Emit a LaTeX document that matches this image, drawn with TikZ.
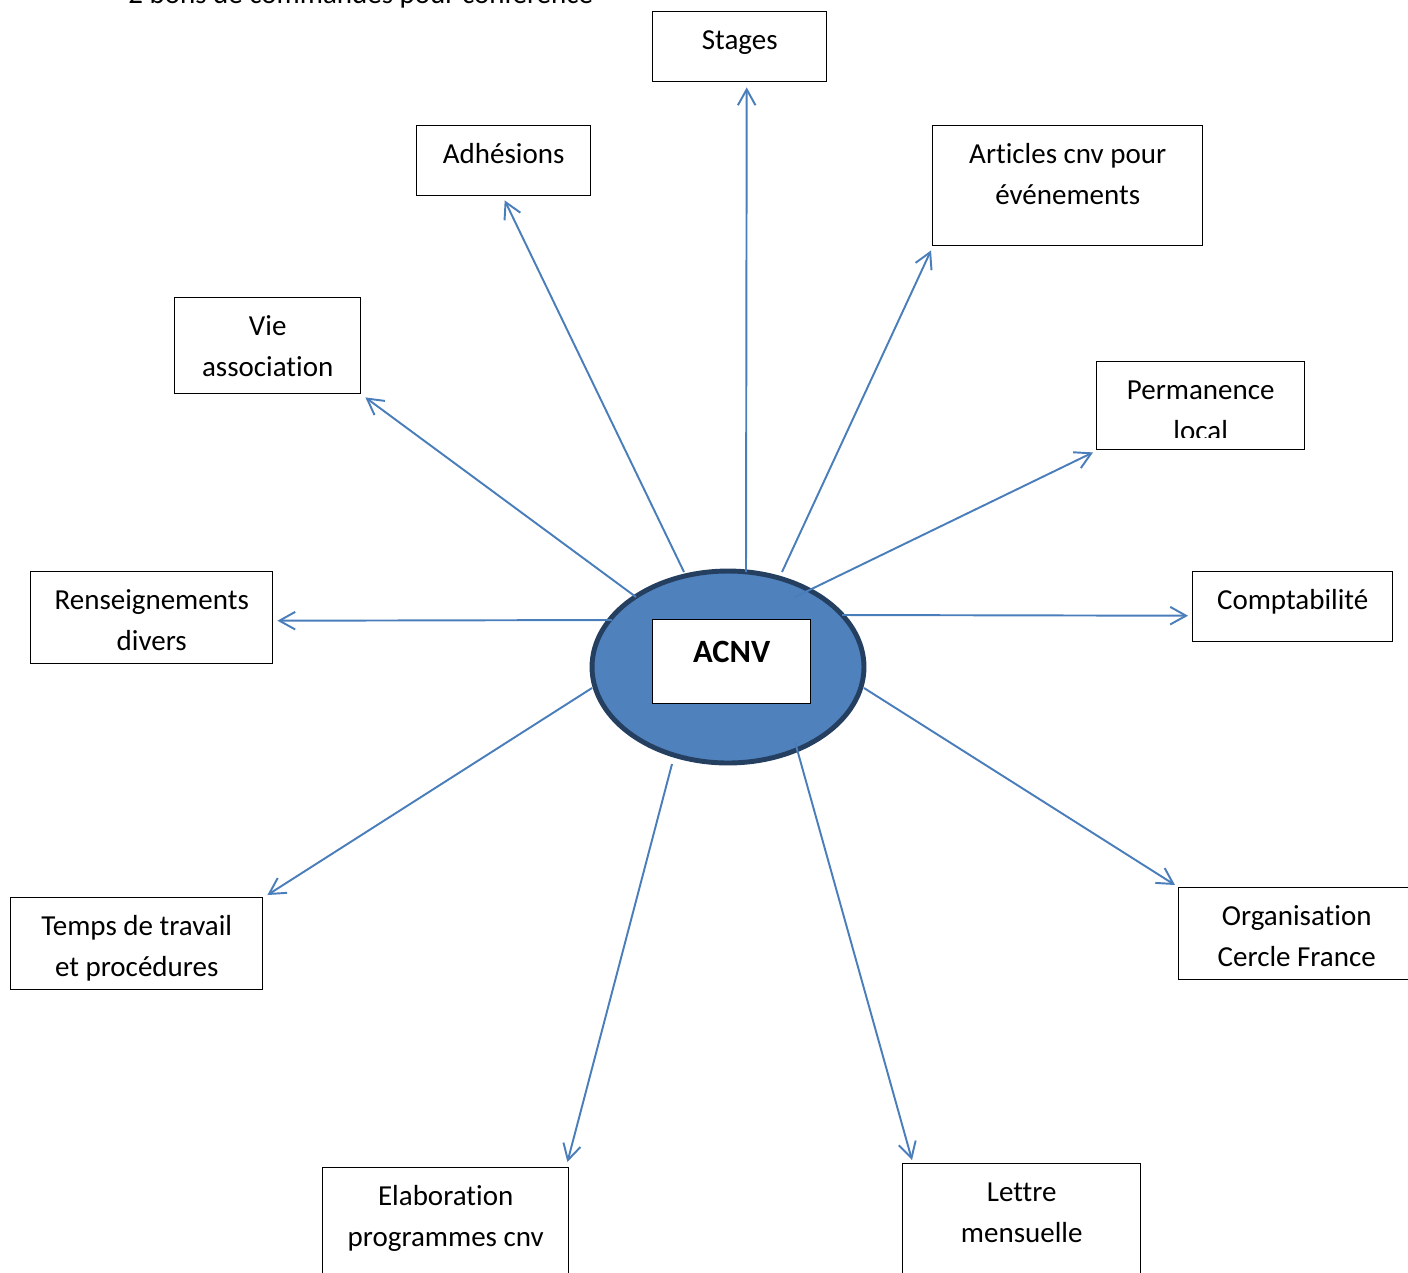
\documentclass[tikz,border=0pt]{standalone}
\usepackage{fontspec}
\setmainfont[Ligatures=NoCommon]{Carlito}
\usetikzlibrary{arrows.meta,shapes.geometric}
\definecolor{acnvfill}{HTML}{4F81BD}
\definecolor{acnvedge}{HTML}{243F60}
\definecolor{linkblue}{HTML}{4A7EBB}
\newlength{\px}\setlength{\px}{0.02cm}
\newcommand{\boxtext}[3]{\parbox[t][#2\px][t]{#1\px}{\centering\rule{0pt}{21.5pt}#3}}

\begin{document}
\begin{tikzpicture}[
  x=0.02cm, y=-0.02cm,
  every node/.style = {font=\fontsize{16.5pt}{23.6pt}\selectfont},
  box/.style = {draw, line width=0.8pt, fill=white, inner sep=0pt, anchor=north west},
  hub/.style = {ellipse, draw=acnvedge, line width=2.8pt, fill=acnvfill,
    minimum width=5.44cm, minimum height=3.84cm, inner sep=0pt},
  link/.style = {draw=linkblue, line width=1.1pt, -{Straight Barb[length=9pt,width=10pt]}}
]
  \useasboundingbox (0,0) rectangle (1408,1272);
  % texte coupe en haut
  \node[anchor=base west, inner sep=0pt] (bons) at (128,3) {2 bons de commandes pour conférence};
  % centre
  \node[hub] (acnv) at (728,667) {};
  \node[box] (acnvlabel) at (652,619)
    {\parbox[t][84\px][t]{158\px}{\centering\fontsize{18.5pt}{22pt}\selectfont\bfseries\rule{0pt}{24.4pt}ACNV}};
  % cadres
  \node[box] (stages) at (652,11) {\boxtext{174}{70}{Stages}};
  \node[box] (adhesions) at (416,125) {\boxtext{174}{70}{Adhésions}};
  \node[box] (articles) at (932,125) {\boxtext{270}{120}{Articles cnv pour\\événements}};
  \node[box] (vie) at (174,297) {\boxtext{186}{96}{Vie\\association}};
  \node[box] (permanence) at (1096,361) {\boxtext{208}{88}{Permanence\\local}};
  \fill[white] ([shift={(1,-12)}]permanence.south west) rectangle ([shift={(-1,-1)}]permanence.south east);
  \node[box] (renseignements) at (30,571) {\boxtext{242}{92}{Renseignements\\divers}};
  \node[box] (comptabilite) at (1192,571) {\boxtext{200}{70}{Comptabilité}};
  \node[box] (temps) at (10,897) {\boxtext{252}{92}{Temps de travail\\et procédures}};
  \node[box] (organisation) at (1178,887) {\boxtext{236}{92}{Organisation\\Cercle France}};
  \node[box] (elaboration) at (322,1167) {\boxtext{246}{120}{Elaboration\\programmes cnv}};
  \node[box] (lettre) at (902,1163) {\boxtext{238}{120}{Lettre\\mensuelle}};
  % fleches
  \draw[link] ([shift={(18,-95)}]acnv.center) -- ([shift={(7,5)}]stages.south);
  \draw[link] ([shift={(-44,-95)}]acnv.center) -- ([shift={(1,4)}]adhesions.south);
  \draw[link] ([shift={(54,-95)}]acnv.center) -- ([shift={(-1,4)}]articles.south west);
  \draw[link] ([shift={(-92,-70)}]acnv.center) -- ([shift={(4,3)}]vie.south east);
  \draw[link] ([shift={(67,-70)}]acnv.center) -- ([shift={(-3,2)}]permanence.south west);
  \draw[link] ([shift={(114,-52)}]acnv.center) -- ([shift={(-4,9)}]comptabilite.west);
  \draw[link] ([shift={(-116,-47)}]acnv.center) -- ([shift={(4,3)}]renseignements.east);
  \draw[link] ([shift={(-136,21)}]acnv.center) -- ([shift={(4,-2)}]temps.north east);
  \draw[link] ([shift={(136,21)}]acnv.center) -- ([shift={(-3,-2)}]organisation.north west);
  \draw[link] ([shift={(-56,97)}]acnv.center) -- ([shift={(-2,-5)}]elaboration.north east);
  \draw[link] ([shift={(67,75)}]acnv.center) -- ([shift={(10,-3)}]lettre.north west);
\end{tikzpicture}
\end{document}
